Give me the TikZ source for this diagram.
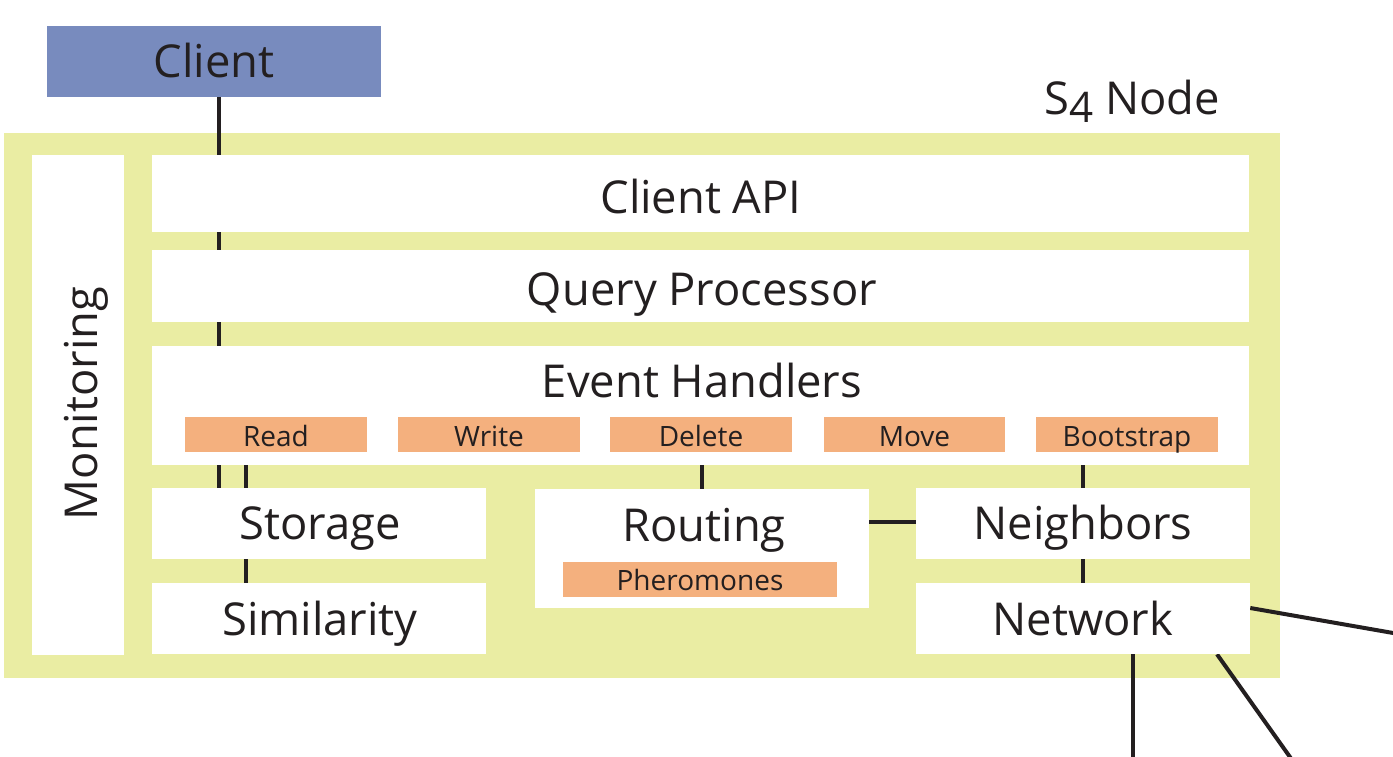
\documentclass[tikz,border=0pt]{standalone}
\usepackage{fontspec}
\usepackage{graphicx}
\setmainfont{Open Sans}
\usetikzlibrary{fit}
\definecolor{nodeyellow}{RGB}{234,237,163}
\definecolor{tagorange}{RGB}{244,176,126}
\definecolor{clientblue}{RGB}{120,139,190}
\definecolor{ink}{RGB}{35,31,32}
% hanging (old-style) figure four
\newcommand{\hangfour}{\raisebox{-6.5pt}{\scalebox{0.93}{4}}}
\pgfdeclarelayer{bg}
\pgfdeclarelayer{wires}
\pgfsetlayers{bg,wires,main}
\tikzset{
  panel/.style={fill=white, draw=none, inner sep=0pt},
  tagbox/.style={fill=tagorange, draw=none, inner sep=0pt},
  lbl/.style={text=ink, inner sep=0pt, anchor=base, font=\fontsize{34}{40}\selectfont},
  taglbl/.style={text=ink, inner sep=0pt, anchor=base, font=\fontsize{21}{25}\selectfont},
  wire/.style={draw=ink, line width=3pt},
}
\begin{document}
\begin{tikzpicture}[x=0.75pt, y=-0.75pt]
\useasboundingbox (0,0) rectangle (1393,757);
\clip (0,0) rectangle (1393,757);

% client and node frame
\node[fill=clientblue, inner sep=0pt, fit={(47,26) (381,97)}] (client) {};
\node[lbl] (clientlbl) at (214,77) {Client};
\node[lbl] (s4lbl) at (1132,114) {S\hangfour\ Node};
\node[inner sep=0pt, fit={(4,133) (1280,678)}] (s4) {};

% layers of the node
\node[panel, fit={(32,155) (124,655)}] (monitor) {};
\node[lbl, rotate=90] (monitorlbl) at (97,403.5) {Monitoring};
\node[panel, fit={(152,155) (1249,232)}] (api) {};
\node[lbl] (apilbl) at (701,213) {Client API};
\node[panel, fit={(152,250) (1249,322)}] (query) {};
\node[lbl] (querylbl) at (702,305) {Query Processor};
\node[panel, fit={(152,346) (1249,465)}] (events) {};
\node[lbl] (eventslbl) at (702,397) {Event Handlers};

% event handler tags
\node[tagbox, fit={(185,417) (367,452)}] (read) {};
\node[taglbl] (readlbl) at (read.center |- 0,446) {Read};
\node[tagbox, fit={(398,417) (580,452)}] (write) {};
\node[taglbl] (writelbl) at (write.center |- 0,446) {Write};
\node[tagbox, fit={(610,417) (792,452)}] (delete) {};
\node[taglbl] (deletelbl) at (delete.center |- 0,446) {Delete};
\node[tagbox, fit={(824,417) (1005,452)}] (move) {};
\node[taglbl] (movelbl) at (move.center |- 0,446) {Move};
\node[tagbox, fit={(1036,417) (1218,452)}] (boot) {};
\node[taglbl] (bootlbl) at (boot.center |- 0,446) {Bootstrap};

% lower modules
\node[panel, fit={(152,488) (486,559)}] (storage) {};
\node[lbl] (storagelbl) at (320,539) {Storage};
\node[panel, fit={(152,583) (486,654)}] (similarity) {};
\node[lbl] (similaritylbl) at (320,635) {Similarity};
\node[panel, fit={(535,489) (869,608)}] (routing) {};
\node[lbl] (routinglbl) at (704,541) {Routing};
\node[tagbox, fit={(563,562) (837,597)}] (pher) {};
\node[taglbl] (pherlbl) at (pher.center |- 0,590) {Pheromones};
\node[panel, fit={(916,488) (1250,559)}] (neighbors) {};
\node[lbl] (neighborslbl) at (1083,539) {Neighbors};
\node[panel, fit={(916,583) (1250,654)}] (network) {};
\node[lbl] (networklbl) at (1083,635) {Network};

% yellow frame behind everything
\begin{pgfonlayer}{bg}
  \fill[nodeyellow] (s4.north west) rectangle (s4.south east);
\end{pgfonlayer}

% connectors
\coordinate (farright) at (1420,637.7);
\coordinate (farbottom) at (1133,780);
\coordinate (fardiag) at (1306.3,780);
\begin{pgfonlayer}{wires}
  \draw[wire] (218.5,0 |- client.south) -- (218.5,0 |- storage.north);
  \draw[wire] (246,0 |- events.south) -- (246,0 |- similarity.north);
  \draw[wire] (routing.north |- events.south) -- (routing.north);
  \draw[wire] (neighbors.north |- events.south) -- (neighbors.north);
  \draw[wire] (neighbors.south) -- (network.north);
  \draw[wire] (routing.east |- 0,522) -- (neighbors.west |- 0,522);
  \draw[wire] (network.east |- 0,608) -- (farright);
  \draw[wire] (network.south -| farbottom) -- (farbottom);
  \draw[wire] (1217,0 |- network.south) -- (fardiag);
\end{pgfonlayer}
\end{tikzpicture}
\end{document}
